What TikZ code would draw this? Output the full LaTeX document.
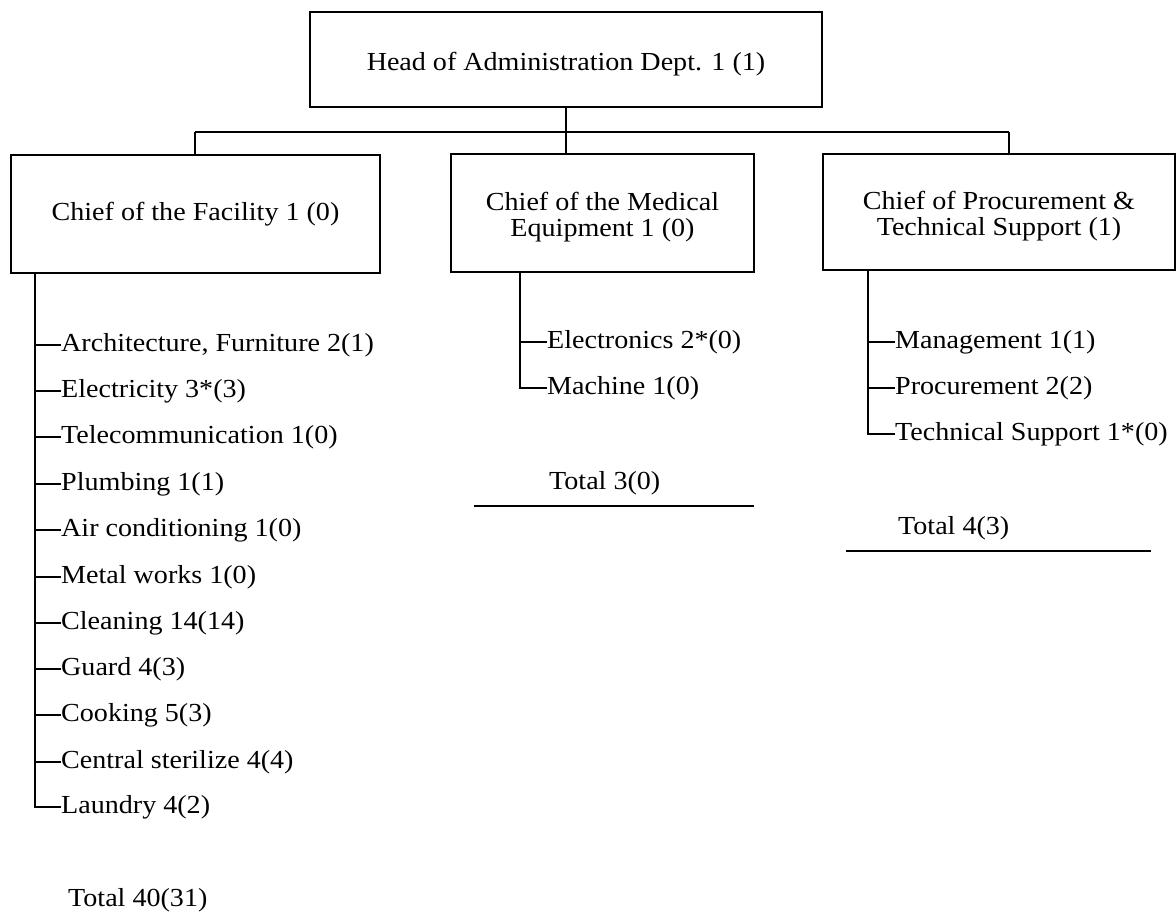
\documentclass[tikz,border=0pt]{standalone}
\usepackage{fontspec}
\setmainfont[FakeStretch=1.08]{Liberation Serif}
\newcommand{\boxtxt}[1]{\raisebox{-11.5pt}[0pt][0pt]{\begin{tabular}{@{}c@{}}#1\end{tabular}}}
\begin{document}
\begin{tikzpicture}[x=1pt,y=-1pt,
  box/.style={draw,line width=1.8pt,inner sep=0pt,align=center,font=\fontsize{26}{25}\selectfont},
  item/.style={anchor=west,inner sep=0pt,font=\fontsize{26}{27}\selectfont},
  link/.style={line width=1.6pt},
  rule/.style={line width=1.8pt}]
\useasboundingbox (0,0) rectangle (1176,918);
% boxes
\node[box,minimum width=512pt,minimum height=95pt] (head) at (566,59.5) {\boxtxt{Head of Administration Dept. 1 (1)}};
\node[box,minimum width=369pt,minimum height=118pt] (fac) at (195.5,214) {Chief of the Facility 1 (0)};
\node[box,minimum width=303pt,minimum height=118pt] (med) at (602.5,213) {\boxtxt{Chief of the Medical\\Equipment 1 (0)}};
\node[box,minimum width=352pt,minimum height=116pt] (proc) at (999,212) {\boxtxt{Chief of Procurement \&\\Technical Support (1)}};
% bus
\coordinate (busL) at (195,132);
\coordinate (busR) at (1009,132);
\draw[link] (busL) -- (busR);
\draw[link] (head.south) -- (head.south |- med.north);
\draw[link] (busL) -- (busL |- fac.north);
\draw[link] (busR) -- (busR |- proc.north);
% facility items
\foreach \n/\y/\t in {f1/345/{Architecture, Furniture 2(1)},f2/391/{Electricity 3*(3)},f3/437/{Telecommunication 1(0)},f4/484/{Plumbing 1(1)},f5/530/{Air conditioning 1(0)},f6/577/{Metal works 1(0)},f7/623/{Cleaning 14(14)},f8/669/{Guard 4(3)},f9/715/{Cooking 5(3)},f10/762/{Central sterilize 4(4)},f11/807/{Laundry 4(2)}}
  {\node[item] (\n) at (61,\y) {\t};}
\coordinate (fspine) at (35,0);
\draw[link] (fspine |- fac.south) -- (fspine |- f11.west) -- (f11.west);
\foreach \n in {f1,f2,f3,f4,f5,f6,f7,f8,f9,f10}
  {\draw[link] (fspine |- \n.west) -- (\n.west);}
\node[item] (ftot) at (68,900) {Total 40(31)};
% medical items
\node[item] (m1) at (547,342) {Electronics 2*(0)};
\node[item] (m2) at (547,388) {Machine 1(0)};
\coordinate (mspine) at (520,0);
\draw[link] (mspine |- med.south) -- (mspine |- m2.west) -- (m2.west);
\draw[link] (mspine |- m1.west) -- (m1.west);
\node[item] (mtot) at (549,483) {Total 3(0)};
\coordinate (mr1) at (474,506);
\coordinate (mr2) at (754,506);
\draw[rule] (mr1) -- (mr2);
% procurement items
\node[item] (p1) at (895,342) {Management 1(1)};
\node[item] (p2) at (895,388) {Procurement 2(2)};
\node[item] (p3) at (895,434) {Technical Support 1*(0)};
\coordinate (pspine) at (868,0);
\draw[link] (pspine |- proc.south) -- (pspine |- p3.west) -- (p3.west);
\draw[link] (pspine |- p1.west) -- (p1.west);
\draw[link] (pspine |- p2.west) -- (p2.west);
\node[item] (ptot) at (898,528) {Total 4(3)};
\coordinate (pr1) at (846,551);
\coordinate (pr2) at (1151,551);
\draw[rule] (pr1) -- (pr2);
\end{tikzpicture}
\end{document}
